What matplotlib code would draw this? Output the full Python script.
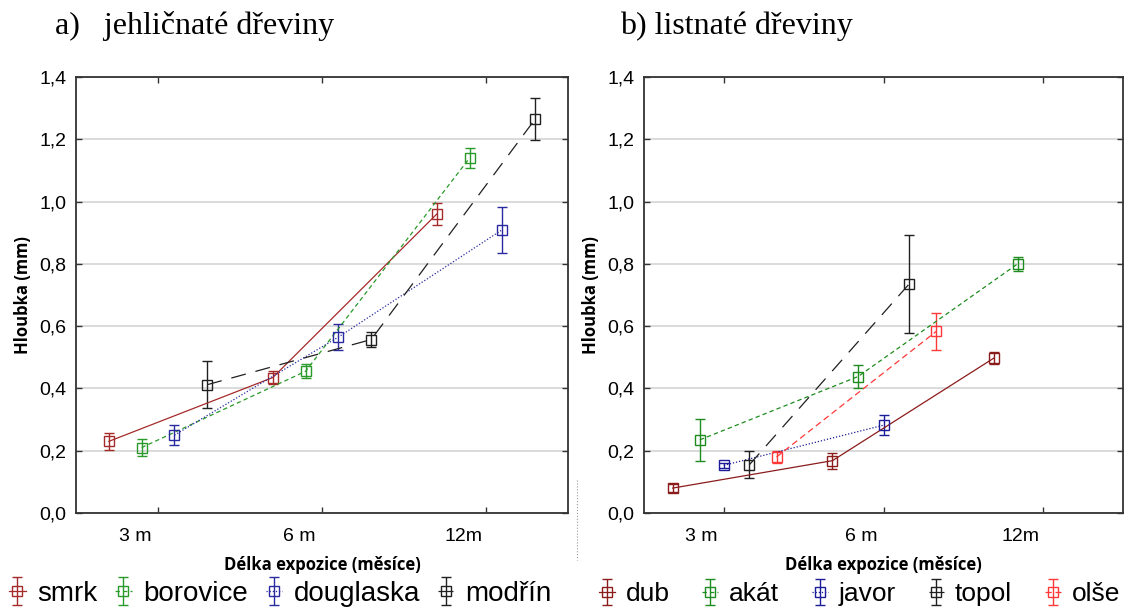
import numpy as np
import matplotlib.pyplot as plt
from matplotlib.lines import Line2D

# ---- data ----
x_ticks = [1, 2, 3]
x_ticklabels = ["3 m", "6 m", "12m"]

# a) jehličnaté dřeviny
con_names = ["smrk", "borovice", "douglaska", "modřín"]
smrk_x = [0.70, 1.70, 2.70]
smrk_y = [0.230, 0.435, 0.960]
smrk_e = [0.028, 0.020, 0.035]
borovice_x = [0.90, 1.90, 2.90]
borovice_y = [0.210, 0.455, 1.140]
borovice_e = [0.028, 0.022, 0.032]
douglaska_x = [1.10, 2.10, 3.10]
douglaska_y = [0.250, 0.565, 0.910]
douglaska_e = [0.033, 0.043, 0.074]
modrin_x = [1.30, 2.30, 3.30]
modrin_y = [0.412, 0.557, 1.265]
modrin_e = [0.075, 0.025, 0.066]

# b) listnaté dřeviny
dec_names = ["dub", "akát", "javor", "topol", "olše"]
dub_x = [0.68, 1.68, 2.69]
dub_y = [0.080, 0.168, 0.497]
dub_e = [0.013, 0.026, 0.020]
akat_x = [0.85, 1.84, 2.84]
akat_y = [0.235, 0.438, 0.800]
akat_e = [0.068, 0.038, 0.023]
javor_x = [1.00, 2.00]
javor_y = [0.153, 0.282]
javor_e = [0.007, 0.032]
topol_x = [1.16, 2.16]
topol_y = [0.155, 0.735]
topol_e = [0.043, 0.158]
olse_x = [1.33, 2.33]
olse_y = [0.180, 0.583]
olse_e = [0.020, 0.060]

# ---- styles ----
BLACK = "#202020"
styles_a = [
    ("#a52a2a", "-"),
    ("#2a9a2a", (0, (3.5, 2.5))),
    ("#2a2aa0", (0, (1, 1.5))),
    (BLACK, (0, (12, 8))),
]
styles_b = [
    ("#8b1c1c", "-"),
    ("#1e8c1e", (0, (3.5, 2.5))),
    ("#1c1c99", (0, (1, 1.5))),
    (BLACK, (0, (12, 8))),
    ("#ff3838", (0, (5, 3))),
]

plt.rcParams["font.family"] = ["Liberation Sans", "DejaVu Sans"]

fig = plt.figure(figsize=(11.38, 6.10), dpi=100)
W, H = 1138, 610


def add_axes(l, r, t, b):
    return fig.add_axes([l / W, (H - b) / H, (r - l) / W, (b - t) / H])


ax_a = add_axes(76, 568, 77, 513)
ax_b = add_axes(644, 1123, 77, 513)


def draw(ax, series, styles):
    handles = []
    for (x, y, e), (c, ls) in zip(series, styles):
        h = ax.errorbar(x, y, yerr=e, color=c, ecolor=c, lw=0.9, ls=ls,
                        marker="s", ms=7, mfc="none", mec=c, mew=1.0,
                        capsize=3.5, elinewidth=1.0, capthick=1.0, zorder=3)
        handles.append(h)
    return handles


def style_axes(ax):
    ax.set_xlim(0.5, 3.5)
    ax.set_ylim(0, 1.4)
    yt = np.arange(0, 1.41, 0.2)
    ax.set_yticks(yt)
    ax.set_yticklabels([f"{v:.1f}".replace(".", ",") for v in yt], fontsize=14)
    # tick marks at the categories, labels drawn slightly to the left
    ax.set_xticks(x_ticks)
    ax.set_xticklabels([])
    ax.set_xticks([t - 0.14 for t in x_ticks], minor=True)
    ax.set_xticklabels(x_ticklabels, minor=True, fontsize=14)
    ax.tick_params(axis="x", which="minor", length=0, pad=11, bottom=True, top=False)
    ax.tick_params(which="major", direction="in", length=4, width=1, top=True,
                   right=True, colors="#333333", labelcolor="black")
    ax.tick_params(axis="y", pad=7)
    ax.grid(axis="y", color="#d8d8d8", lw=1.3, zorder=0)
    for s in ax.spines.values():
        s.set_color("#333333")
        s.set_linewidth(1.3)
    ax.set_xlabel("Délka expozice (měsíce)", fontsize=12, fontweight="bold",
                  family=["Open Sans", "DejaVu Sans"], labelpad=8)
    ax.set_ylabel("Hloubka (mm)", fontsize=12, fontweight="bold",
                  family=["Open Sans", "DejaVu Sans"], labelpad=5)


h_a = draw(ax_a, [(smrk_x, smrk_y, smrk_e), (borovice_x, borovice_y, borovice_e),
                  (douglaska_x, douglaska_y, douglaska_e), (modrin_x, modrin_y, modrin_e)],
           styles_a)
h_b = draw(ax_b, [(dub_x, dub_y, dub_e), (akat_x, akat_y, akat_e),
                  (javor_x, javor_y, javor_e), (topol_x, topol_y, topol_e),
                  (olse_x, olse_y, olse_e)], styles_b)
style_axes(ax_a)
style_axes(ax_b)

# panel titles
fig.text(55 / W, 1 - 26 / H, "a)   jehličnaté dřeviny", fontsize=23,
         family=["Liberation Serif", "DejaVu Serif"], va="center", ha="left")
fig.text(620 / W, 1 - 26 / H, "b) listnaté dřeviny", fontsize=23,
         family=["Liberation Serif", "DejaVu Serif"], va="center", ha="left")

# legends
fig.legend(h_a, con_names, loc="center left", bbox_to_anchor=(9 / W, 1 - 594 / H),
           ncol=4, frameon=False, fontsize=20, handlelength=0.6, handletextpad=0.4,
           columnspacing=0.65, borderaxespad=0, borderpad=0)
fig.legend(h_b, dec_names, loc="center left", bbox_to_anchor=(599 / W, 1 - 594 / H),
           ncol=5, frameon=False, fontsize=19, handlelength=0.6, handletextpad=0.4,
           columnspacing=1.25, borderaxespad=0, borderpad=0)

# small dotted separator artefact between the panels
fig.add_artist(Line2D([577 / W, 577 / W], [1 - 480 / H, 1 - 560 / H],
                      transform=fig.transFigure, color="#999999", lw=0.8, ls=":"))

fig.savefig("out.png", dpi=100)
